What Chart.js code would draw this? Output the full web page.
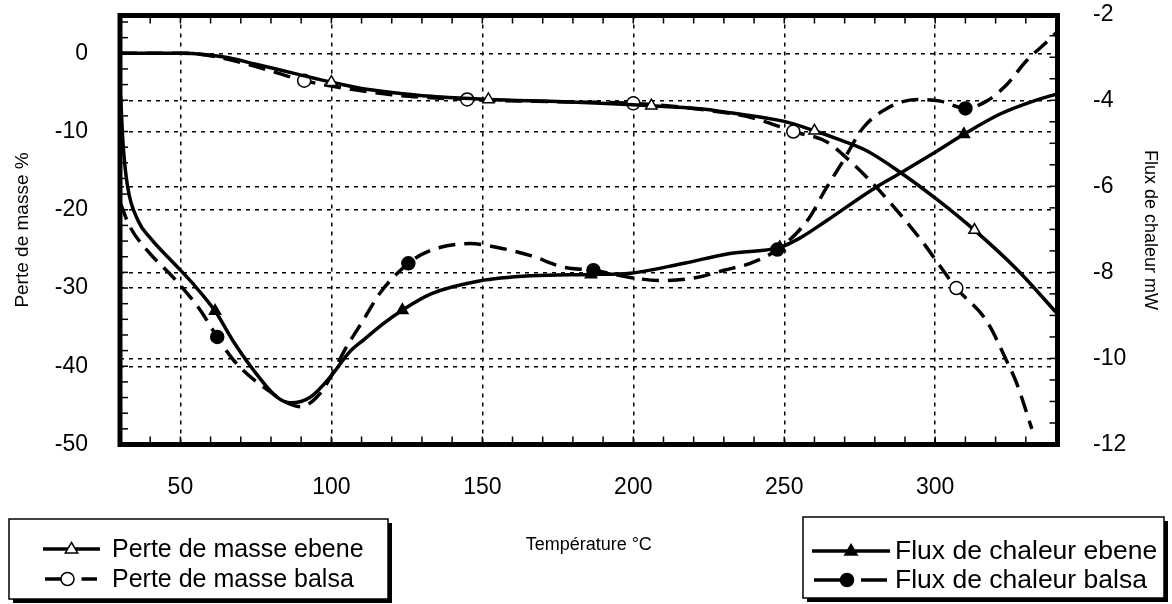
<!DOCTYPE html>
<html>
<head>
<meta charset="utf-8">
<script src="https://cdn.jsdelivr.net/npm/chart.js@4.4.1/dist/chart.umd.min.js"></script>
<style>
html, body { margin: 0; padding: 0; background: #fff; }
</style>
</head>
<body>
<canvas id="graficoFlux" width="1172" height="604"></canvas>
<script>
// Perte de masse (axe gauche, %)
var tempMasseEbene = [30, 40, 50, 55, 65, 75, 88, 100, 110, 120, 133, 152, 177, 206, 222, 232, 250, 260, 268, 277, 288, 301, 313, 327, 340.5];
var masseEbene = [0, 0, 0, -0.05, -0.5, -1.4, -2.6, -3.7, -4.5, -5.0, -5.5, -5.9, -6.2, -6.7, -7.1, -7.6, -8.7, -9.9, -11.0, -12.4, -15.1, -18.8, -22.6, -27.6, -33.3];
var marquesMasseEbene = [100, 152, 206, 260, 313];

var tempMasseBalsa = [30, 50, 55, 65, 75, 91, 100, 110, 120, 130, 145, 175, 200, 225, 240, 253, 264, 271, 279, 286, 295, 307, 317, 324, 327, 332];
var masseBalsa = [0, 0, -0.05, -0.7, -1.7, -3.5, -4.2, -4.8, -5.3, -5.6, -5.9, -6.2, -6.4, -7.3, -8.3, -10.0, -11.3, -13.5, -16.5, -19.5, -23.7, -30.0, -34.2, -39.6, -42.2, -48.0];
var marquesMasseBalsa = [91, 145, 200, 253, 307];

// Flux de chaleur (axe droit, mW)
var tempFluxEbene = [30.2, 31, 32.5, 36, 40, 48, 54, 61.5, 67.5, 74, 82, 86.5, 93, 100, 106, 111, 117, 123.5, 133, 149, 166, 186, 199, 216, 232, 248.5, 255, 264, 279.5, 288.5, 299, 309.5, 321.5, 332.5, 340.5];
var fluxEbene = [-3.9, -5.0, -6.0, -6.8, -7.2, -7.8, -8.25, -8.9, -9.6, -10.25, -10.9, -11.03, -10.9, -10.4, -9.85, -9.55, -9.2, -8.88, -8.5, -8.2, -8.08, -8.05, -8.02, -7.8, -7.56, -7.42, -7.21, -6.8, -6.06, -5.69, -5.25, -4.79, -4.32, -4.02, -3.85];
var marquesFluxEbene = [61.5, 123.5, 186, 248.5, 309.5];

var tempFluxBalsa = [30.2, 33, 39, 47.7, 56.6, 62.2, 67.5, 78.8, 89.7, 96.4, 105.3, 110.6, 116, 125.5, 132.8, 146, 155, 166, 177, 186.8, 199, 210, 221, 230, 238.7, 247.7, 257.6, 264, 269.5, 276, 284, 294, 301.7, 310, 317, 323.8, 330, 337, 340.5];
var fluxBalsa = [-6.4, -6.9, -7.49, -8.12, -8.88, -9.5, -10.03, -10.73, -11.12, -10.8, -9.7, -9.11, -8.49, -7.79, -7.49, -7.33, -7.42, -7.61, -7.88, -7.95, -8.12, -8.19, -8.12, -7.95, -7.79, -7.47, -6.8, -6.03, -5.41, -4.65, -4.19, -3.98, -4.02, -4.19, -4.02, -3.63, -3.1, -2.64, -2.4];
var marquesFluxBalsa = [62.2, 125.5, 186.8, 247.7, 310];

// graduations
var ticksTemp = [50, 100, 150, 200, 250, 300];
var ticksMasse = [-50, -40, -30, -20, -10, 0];
var ticksFlux = [-12, -10, -8, -6, -4, -2];

var police = "'Liberation Sans', Arial, sans-serif";
Chart.defaults.color = '#000';
Chart.defaults.font.family = police;

function pontos(temps, valores) {
    return temps.map(function (t, i) { return { x: t, y: valores[i] }; });
}

function serie(label, temps, valores, marques, eixo, tracejado, forma, cheio) {
    return {
        label: label,
        data: pontos(temps, valores),
        yAxisID: eixo,
        borderColor: '#000',
        borderWidth: 3.5,
        borderDash: tracejado ? [17, 9] : [],
        cubicInterpolationMode: 'monotone',
        pointStyle: forma,
        pointBackgroundColor: cheio ? '#000' : '#fff',
        pointBorderColor: '#000',
        pointBorderWidth: 1.5,
        pointRadius: function (c) {
            return c.raw && marques.indexOf(c.raw.x) >= 0 ? 6.5 : 0;
        },
        fill: false
    };
}

function fixarTicks(lista) {
    return function (scale) {
        scale.ticks = lista.map(function (v) { return { value: v }; });
    };
}

function largura(w) {
    return function (s) {
        s.width = w;
        s.paddingTop = 0;
        s.paddingBottom = 0;
    };
}

function desenharMarca(ctx, forma, cheio, x, y, r) {
    ctx.save();
    ctx.beginPath();
    if (forma === 'triangle') {
        ctx.moveTo(x, y - r);
        ctx.lineTo(x + r * 0.95, y + r * 0.6);
        ctx.lineTo(x - r * 0.95, y + r * 0.6);
        ctx.closePath();
    } else {
        ctx.arc(x, y, r, 0, Math.PI * 2);
    }
    ctx.fillStyle = cheio ? '#000' : '#fff';
    ctx.fill();
    ctx.lineWidth = 1.5;
    ctx.strokeStyle = '#000';
    ctx.setLineDash([]);
    ctx.stroke();
    ctx.restore();
}

function traco(ctx, x1, y1, x2, y2) {
    ctx.beginPath();
    ctx.moveTo(x1, y1);
    ctx.lineTo(x2, y2);
    ctx.stroke();
}

var cadrePlugin = {
    id: 'cadre',
    afterDraw: function (chart) {
        var ctx = chart.ctx;
        var a = chart.chartArea;
        var sx = chart.scales.x, sg = chart.scales.yMasse, sd = chart.scales.yFlux;
        ctx.save();
        ctx.strokeStyle = '#000';
        ctx.setLineDash([]);

        // petites graduations internes
        ctx.lineWidth = 1.5;
        for (var t = 40; t <= 330; t += 10) {
            var px = sx.getPixelForValue(t);
            traco(ctx, px, a.top, px, a.top + 8);
            traco(ctx, px, a.bottom, px, a.bottom - 8);
        }
        for (var v = -48; v <= 4; v += 2) {
            var py = sg.getPixelForValue(v);
            traco(ctx, a.left, py, a.left + 8, py);
        }
        for (var w = -11.5; w <= -2.5; w += 0.5) {
            var pz = sd.getPixelForValue(w);
            traco(ctx, a.right, pz, a.right - 8, pz);
        }

        // cadre épais
        ctx.lineWidth = 5;
        ctx.strokeRect(a.left, a.top, a.right - a.left, a.bottom - a.top);

        // légendes
        var ds = chart.data.datasets;
        var boites = [
            { x1: 9, y1: 519, x2: 388, y2: 599, items: [0, 1], l1: 43, l2: 100, xt: 112, rows: [549, 579], taille: 25 },
            { x1: 803, y1: 517, x2: 1164, y2: 598, items: [2, 3], l1: 812, l2: 890, xt: 895, rows: [551, 580], taille: 26.5 }
        ];
        boites.forEach(function (b) {
            ctx.fillStyle = '#000';
            ctx.fillRect(b.x1 + 4, b.y1 + 4, b.x2 - b.x1, b.y2 - b.y1);
            ctx.fillStyle = '#fff';
            ctx.fillRect(b.x1, b.y1, b.x2 - b.x1, b.y2 - b.y1);
            ctx.lineWidth = 1.5;
            ctx.strokeRect(b.x1, b.y1, b.x2 - b.x1, b.y2 - b.y1);

            b.items.forEach(function (idx, k) {
                var d = ds[idx];
                var y = b.rows[k];
                var xm = (b.l1 + b.l2) / 2;
                ctx.lineWidth = 3.5;
                ctx.setLineDash([]);
                if (d.borderDash.length) {
                    traco(ctx, b.l1 + 2, y, xm - 8, y);
                    traco(ctx, xm + 10, y, b.l2 - 3, y);
                    xm = xm - 4;
                } else {
                    traco(ctx, b.l1, y, b.l2, y);
                }
                desenharMarca(ctx, d.pointStyle, d.pointBackgroundColor === '#000', xm, y, 6.5);
                ctx.fillStyle = '#000';
                ctx.font = b.taille + 'px ' + police;
                ctx.textBaseline = 'middle';
                ctx.textAlign = 'left';
                ctx.fillText(d.label, b.xt, y + 1);
            });
        });
        ctx.restore();
    }
};

var ctx = document.getElementById('graficoFlux').getContext('2d');
var grafico = new Chart(ctx, {
    type: 'line',
    data: {
        datasets: [
            serie('Perte de masse ebene', tempMasseEbene, masseEbene, marquesMasseEbene, 'yMasse', false, 'triangle', false),
            serie('Perte de masse balsa', tempMasseBalsa, masseBalsa, marquesMasseBalsa, 'yMasse', true, 'circle', false),
            serie('Flux de chaleur ebene', tempFluxEbene, fluxEbene, marquesFluxEbene, 'yFlux', false, 'triangle', true),
            serie('Flux de chaleur balsa', tempFluxBalsa, fluxBalsa, marquesFluxBalsa, 'yFlux', true, 'circle', true)
        ]
    },
    options: {
        responsive: false,
        animation: false,
        layout: { padding: { top: 15.5, left: 0, right: 0, bottom: 0 } },
        plugins: {
            legend: { display: false },
            tooltip: { enabled: false }
        },
        scales: {
            x: {
                type: 'linear',
                position: 'bottom',
                min: 30,
                max: 340.5,
                afterBuildTicks: fixarTicks(ticksTemp),
                afterFit: function (s) { s.height = 159.5; s.paddingLeft = 0; s.paddingRight = 0; },
                grid: { color: '#000', lineWidth: 1.5, drawTicks: false },
                border: { display: false, dash: [4, 5] },
                ticks: { font: { size: 23 }, padding: 29, maxRotation: 0 },
                title: { display: true, text: 'Température °C', font: { size: 18 }, padding: { top: 0, bottom: 48 } }
            },
            yMasse: {
                type: 'linear',
                position: 'left',
                min: -50,
                max: 4.83,
                afterBuildTicks: fixarTicks(ticksMasse),
                afterFit: largura(120),
                grid: { color: '#000', lineWidth: 1.5, drawTicks: false },
                border: { display: false, dash: [4, 5] },
                ticks: { font: { size: 23 }, padding: 32 },
                title: { display: true, text: 'Perte de masse %', font: { size: 19 }, padding: { top: 11.6, bottom: 0 } }
            },
            yFlux: {
                type: 'linear',
                position: 'right',
                min: -12,
                max: -2.03,
                afterBuildTicks: fixarTicks(ticksFlux),
                afterFit: largura(114.5),
                grid: { color: '#000', lineWidth: 1.5, drawTicks: false, drawOnChartArea: true },
                border: { display: false, dash: [4, 5] },
                ticks: { font: { size: 23 }, padding: 35.5 },
                title: { display: true, text: 'Flux de chaleur mW', font: { size: 18 }, padding: { top: 11.2, bottom: 0 } }
            }
        }
    },
    plugins: [cadrePlugin]
});
</script>
</body>
</html>
